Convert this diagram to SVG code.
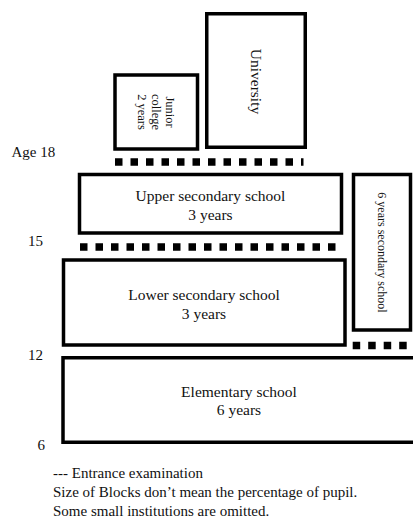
<svg xmlns="http://www.w3.org/2000/svg" width="413" height="518" viewBox="0 0 413 518">
<style>
.box{fill:#fff;stroke:#000;stroke-width:3.5}
.t{font-family:"Liberation Serif","Times New Roman",serif;fill:#111}
.bt{font-size:15.5px;text-anchor:middle}
.lab{font-size:15px}
.exam{stroke:#000;stroke-width:7.5;stroke-dasharray:7.5 8;fill:none}
</style>
<rect width="413" height="518" fill="#fff"/>
<g id="connectors">
<line class="exam" x1="115" y1="162" x2="303.5" y2="162"/>
<line class="exam" x1="80" y1="247" x2="335.5" y2="247"/>
<line class="exam" x1="352.7" y1="345.5" x2="413" y2="345.5"/>
</g>
<g id="university">
<rect class="box" x="206.75" y="13.75" width="98.5" height="133.5"/>
<text class="t bt" transform="translate(256,81.5) rotate(90)" y="5">University</text>
</g>
<g id="junior-college">
<rect class="box" x="115" y="75" width="82.5" height="74"/>
<text class="t" font-size="12.5" text-anchor="middle" transform="translate(156.5,112) rotate(90)"><tspan x="0" y="-9.5">Junior</tspan><tspan x="0" y="4.5">college</tspan><tspan x="0" y="18.5">2 years</tspan></text>
</g>
<g id="upper-secondary">
<rect class="box" x="79.5" y="174.5" width="262" height="58.5"/>
<text class="t bt"><tspan x="210.5" y="200.5">Upper secondary school</tspan><tspan x="210.5" y="220">3 years</tspan></text>
</g>
<g id="six-year-secondary">
<rect class="box" x="353.5" y="174.5" width="57" height="155.5"/>
<text class="t" font-size="12" text-anchor="middle" transform="translate(381.7,252.5) rotate(90)" y="4">6 years secondary school</text>
</g>
<g id="lower-secondary">
<rect class="box" x="63.5" y="260" width="281.5" height="85"/>
<text class="t bt"><tspan x="204" y="300">Lower secondary school</tspan><tspan x="204" y="318.5">3 years</tspan></text>
</g>
<g id="elementary">
<rect class="box" x="63" y="357.75" width="352" height="84.5"/>
<text class="t bt"><tspan x="239" y="396.5">Elementary school</tspan><tspan x="239" y="415">6 years</tspan></text>
</g>
<g id="age-labels">
<text class="t lab" x="11.5" y="157">Age 18</text>
<text class="t lab" x="28" y="246">15</text>
<text class="t lab" x="28" y="360">12</text>
<text class="t lab" x="37.5" y="450">6</text>
</g>
<g id="legend">
<text class="t lab" x="53" y="478">--- Entrance examination</text>
<text class="t lab" x="53" y="497">Size of Blocks don’t mean the percentage of pupil.</text>
<text class="t lab" x="53" y="516">Some small institutions are omitted.</text>
</g>
</svg>
